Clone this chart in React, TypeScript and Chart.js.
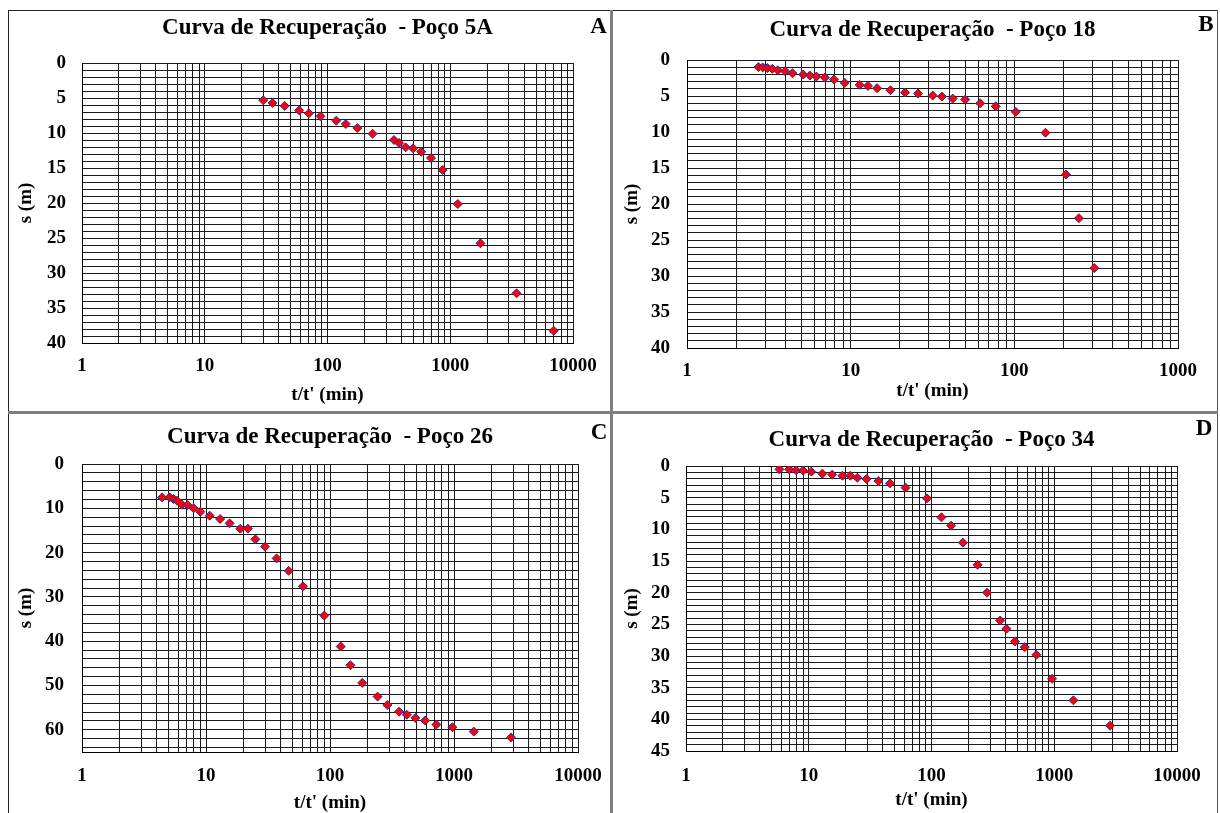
import React, { useEffect, useRef } from "react";
import { Chart, registerables } from "chart.js";

Chart.register(...registerables);

const SERIF = "'Liberation Serif', 'Times New Roman', Times, serif";

// ---- Data: Poço 5A (panel A)
const tA = [30, 35.7, 44.8, 58.7, 70.5, 87.7, 118, 141, 175, 233, 348, 383, 433, 498, 580, 697, 867, 1153, 1762, 3470, 6950];
const sA = [5.33, 5.71, 6.14, 6.76, 7.19, 7.62, 8.24, 8.71, 9.29, 10.1, 11.0, 11.43, 12.05, 12.19, 12.67, 13.57, 15.29, 20.14, 25.76, 32.9, 38.24];

// ---- Data: Poço 18 (panel B)
const tB = [2.73, 2.9, 3.1, 3.32, 3.59, 3.98, 4.41, 5.13, 5.63, 6.18, 6.95, 7.91, 9.2, 11.35, 12.75, 14.5, 17.5, 21.5, 25.8, 31.7, 36.1, 42, 50.1, 61.8, 77, 102, 155, 207, 248, 308];
const sB = [0.98, 1.03, 1.12, 1.22, 1.42, 1.56, 1.83, 2.02, 2.16, 2.3, 2.44, 2.72, 3.18, 3.46, 3.6, 3.92, 4.2, 4.52, 4.66, 4.94, 5.08, 5.36, 5.5, 6.01, 6.42, 7.2, 10.1, 15.9, 21.97, 28.9];

// ---- Data: Poço 26 (panel C)
const tC = [4.42, 5.09, 5.48, 5.84, 6.4, 7.11, 7.95, 9.0, 10.7, 13.0, 15.5, 18.9, 21.8, 25.0, 29.9, 37.1, 46.4, 60.5, 90, 122, 146, 182, 242, 290, 361, 417, 488, 585, 721, 970, 1443, 2885];
const sC = [7.53, 7.53, 7.9, 8.28, 9.19, 9.26, 10.0, 10.77, 11.67, 12.42, 13.4, 14.6, 14.6, 17.0, 18.67, 21.3, 24.1, 27.6, 34.2, 41.2, 45.4, 49.4, 52.5, 54.4, 55.9, 56.6, 57.3, 57.9, 58.8, 59.4, 60.4, 61.7];

// ---- Data: Poço 34 (panel D)
const tD = [5.77, 6.93, 7.9, 9.0, 10.5, 12.9, 15.5, 18.8, 21.8, 24.9, 29.6, 36.9, 45.9, 61.5, 91.9, 120.5, 144.5, 180, 237.5, 283, 363, 408, 479, 575, 716, 959, 1433, 2847];
const sD = [0.53, 0.53, 0.68, 0.74, 0.89, 1.21, 1.37, 1.53, 1.53, 1.84, 2.05, 2.37, 2.74, 3.42, 5.1, 8.1, 9.42, 12.1, 15.6, 20.0, 24.4, 25.7, 27.7, 28.6, 29.8, 33.6, 37.0, 41.0];

// ---- Tick labels
const xLabels4 = [1, 10, 100, 1000, 10000];
const xLabels3 = [1, 10, 100, 1000];
const yLabelsA = [0, 5, 10, 15, 20, 25, 30, 35, 40];
const yLabelsB = [0, 5, 10, 15, 20, 25, 30, 35, 40];
const yLabelsC = [0, 10, 20, 30, 40, 50, 60];
const yLabelsD = [0, 5, 10, 15, 20, 25, 30, 35, 40, 45];

const titles = [
  "Curva de Recuperação  - Poço 5A",
  "Curva de Recuperação  - Poço 18",
  "Curva de Recuperação  - Poço 26",
  "Curva de Recuperação  - Poço 34",
];
const xAxisTitle = "t/t' (min)";
const yAxisTitle = "s (m)";

function logGrid(max: number): number[] {
  const v: number[] = [];
  for (let d = 1; d < max; d *= 10) for (let k = 1; k < 10; k++) v.push(k * d);
  v.push(max);
  return v;
}
function linGrid(max: number, step: number): number[] {
  const v: number[] = [];
  for (let y = 0; y <= max + 1e-9; y += step) v.push(Math.round(y * 1000) / 1000);
  if (v[v.length - 1] !== max) v.push(max);
  return v;
}

type Box = { l: number; t: number; w: number; h: number };
type Area = { l: number; t: number; r: number; b: number };
type Cfg = {
  title: string;
  xs: number[];
  ys: number[];
  xMax: number;
  yMax: number;
  yStep: number;
  xLabels: number[];
  yLabels: number[];
  box: Box;
  area: Area;
  titleY: number;
  xTickY: number;
  xTitleY: number;
  yTitleX: number;
  yTickRight: number;
};

const panels: Cfg[] = [
  {
    title: titles[0], xs: tA, ys: sA, xMax: 10000, yMax: 40, yStep: 1, xLabels: xLabels4, yLabels: yLabelsA,
    box: { l: 9, t: 11, w: 601, h: 400 }, area: { l: 82, t: 63, r: 573, b: 343 },
    titleY: 28, xTickY: 366.5, xTitleY: 395, yTitleX: 26, yTickRight: 66,
  },
  {
    title: titles[1], xs: tB, ys: sB, xMax: 1000, yMax: 40, yStep: 1, xLabels: xLabels3, yLabels: yLabelsB,
    box: { l: 613, t: 11, w: 604, h: 400 }, area: { l: 687, t: 60, r: 1178, b: 348 },
    titleY: 30, xTickY: 371, xTitleY: 391, yTitleX: 632, yTickRight: 670,
  },
  {
    title: titles[2], xs: tC, ys: sC, xMax: 10000, yMax: 65, yStep: 2, xLabels: xLabels4, yLabels: yLabelsC,
    box: { l: 9, t: 414, w: 601, h: 399 }, area: { l: 82, t: 464, r: 578, b: 752 },
    titleY: 437.5, xTickY: 776, xTitleY: 803, yTitleX: 26, yTickRight: 64,
  },
  {
    title: titles[3], xs: tD, ys: sD, xMax: 10000, yMax: 45, yStep: 1, xLabels: xLabels4, yLabels: yLabelsD,
    box: { l: 613, t: 414, w: 604, h: 399 }, area: { l: 686, t: 466, r: 1177, b: 751 },
    titleY: 440, xTickY: 776, xTitleY: 800, yTitleX: 632, yTickRight: 670,
  },
];

const letters = [
  { text: "A", x: 598.5, y: 25.5 },
  { text: "B", x: 1206, y: 24 },
  { text: "C", x: 599, y: 432 },
  { text: "D", x: 1204, y: 428 },
];

const TITLE_SIZE = 23;
const TICK_SIZE = 19;
const AXT_SIZE = 19;
const GRID = "#1a1a1a";

function Panel({ cfg }: { cfg: Cfg }) {
  const ref = useRef<HTMLCanvasElement>(null);
  useEffect(() => {
    const c = cfg;
    const L = 2;
    const yAxisW = c.area.l - c.box.l - L;
    const padRight = c.box.l + c.box.w - c.area.r;
    const titleH = c.area.t - c.box.t;
    const tPadTop = c.titleY - c.box.t - TITLE_SIZE / 2;
    const tPadBottom = titleH - TITLE_SIZE - tPadTop;
    const xAxisH = c.box.t + c.box.h - c.area.b;
    const xTickPad = c.xTickY - c.area.b - TICK_SIZE / 2;
    const xTitlePadBottom = c.box.t + c.box.h - c.xTitleY - AXT_SIZE / 2;
    const yTitlePadTop = c.yTitleX - c.box.l - L - AXT_SIZE / 2;
    const yTickPad = c.area.l - c.yTickRight;
    const xGrid = logGrid(c.xMax);
    const yGrid = linGrid(c.yMax, c.yStep);
    const tickFont = { family: SERIF, size: TICK_SIZE, weight: "bold" as const, lineHeight: 1 };
    const axFont = { family: SERIF, size: AXT_SIZE, weight: "bold" as const, lineHeight: 1 };

    const chart = new Chart(ref.current as HTMLCanvasElement, {
      type: "scatter",
      data: {
        datasets: [
          {
            data: c.xs.map((x, i) => ({ x, y: c.ys[i] })),
            pointStyle: "rectRot",
            pointRadius: 4.5,
            backgroundColor: "#ff0000",
            borderColor: "#2a2aa8",
            borderWidth: 1,
            showLine: false,
          },
        ],
      },
      options: {
        responsive: false,
        animation: false,
        layout: { padding: { left: L, right: padRight, top: 0, bottom: 0 } },
        plugins: {
          legend: { display: false },
          tooltip: { enabled: false },
          title: {
            display: true,
            text: c.title,
            fullSize: false,
            color: "#000",
            font: { family: SERIF, size: TITLE_SIZE, weight: "bold", lineHeight: 1 },
            padding: { top: tPadTop, bottom: tPadBottom },
          },
        },
        scales: {
          x: {
            type: "logarithmic",
            position: "bottom",
            min: 1,
            max: c.xMax,
            afterBuildTicks: (s: any) => {
              s.ticks = xGrid.map((v) => ({ value: v }));
            },
            afterFit: (s: any) => {
              s.height = xAxisH;
              s.paddingLeft = 0;
              s.paddingRight = 0;
            },
            grid: { color: GRID, lineWidth: 1, drawTicks: false },
            border: { display: true, color: "#000", width: 1 },
            ticks: {
              autoSkip: false,
              maxRotation: 0,
              minRotation: 0,
              padding: xTickPad,
              color: "#000",
              font: tickFont,
              callback: (v: any) => (c.xLabels.includes(Number(v)) ? String(Number(v)) : ""),
            },
            title: {
              display: true,
              text: xAxisTitle,
              color: "#000",
              font: axFont,
              padding: { top: 0, bottom: xTitlePadBottom },
            },
          },
          y: {
            type: "linear",
            reverse: true,
            min: 0,
            max: c.yMax,
            afterBuildTicks: (s: any) => {
              s.ticks = yGrid.map((v) => ({ value: v }));
            },
            afterFit: (s: any) => {
              s.width = yAxisW;
              s.paddingTop = 0;
              s.paddingBottom = 0;
            },
            grid: { color: GRID, lineWidth: 1, drawTicks: false },
            border: { display: true, color: "#000", width: 1 },
            ticks: {
              autoSkip: false,
              padding: yTickPad,
              color: "#000",
              font: tickFont,
              callback: (v: any) => (c.yLabels.includes(Number(v)) ? String(Number(v)) : ""),
            },
            title: {
              display: true,
              text: yAxisTitle,
              color: "#000",
              font: axFont,
              padding: { top: yTitlePadTop, bottom: 0 },
            },
          },
        },
      },
    } as any);
    return () => chart.destroy();
  }, [cfg]);

  return (
    <canvas
      ref={ref}
      width={cfg.box.w}
      height={cfg.box.h}
      style={{ position: "absolute", left: cfg.box.l, top: cfg.box.t, width: cfg.box.w, height: cfg.box.h }}
    />
  );
}

export default function App() {
  return (
    <div style={{ position: "fixed", left: 0, top: 0, width: 1220, height: 813, background: "#fff", overflow: "hidden" }}>
      {/* outer frame lines */}
      <div style={{ position: "absolute", left: 8, top: 10, width: 1210, height: 1, background: "#222" }} />
      <div style={{ position: "absolute", left: 8, top: 10, width: 1, height: 803, background: "#222" }} />
      <div style={{ position: "absolute", left: 1217, top: 10, width: 1, height: 803, background: "#555" }} />
      {/* separators */}
      <div style={{ position: "absolute", left: 610, top: 10, width: 3, height: 803, background: "#7f7f7f" }} />
      <div style={{ position: "absolute", left: 8, top: 411, width: 1210, height: 3, background: "#7f7f7f" }} />
      {panels.map((p, i) => (
        <Panel key={i} cfg={p} />
      ))}
      {letters.map((l, i) => (
        <div
          key={i}
          style={{
            position: "absolute",
            left: l.x - 15,
            top: l.y - 14,
            width: 30,
            height: 28,
            lineHeight: "28px",
            textAlign: "center",
            fontFamily: SERIF,
            fontWeight: "bold",
            fontSize: 23,
            color: "#000",
          }}
        >
          {l.text}
        </div>
      ))}
    </div>
  );
}
